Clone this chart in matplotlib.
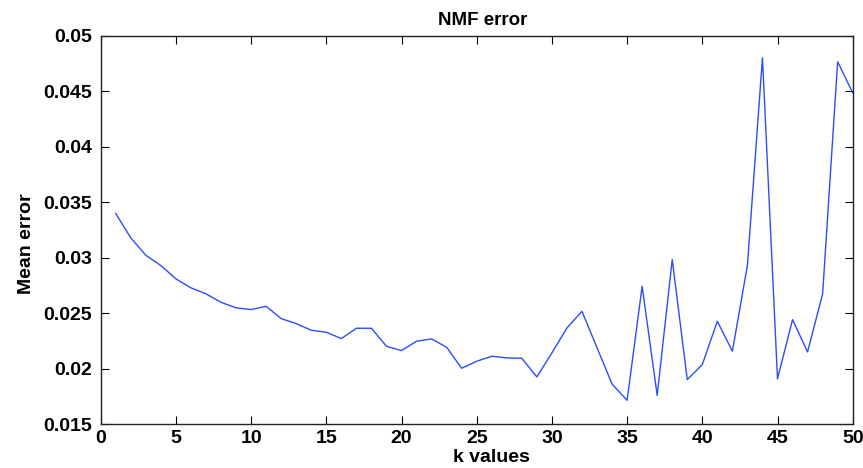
import numpy as np
import matplotlib
matplotlib.use("Agg")
from matplotlib import pyplot as plt

# k values and mean NMF error
k_values = list(range(1, 51))
mean_error = [0.03398, 0.03179, 0.03022, 0.02930, 0.02810, 0.02729, 0.02675, 0.02599, 0.02549, 0.02533,
              0.02563, 0.02452, 0.02407, 0.02347, 0.02329, 0.02272, 0.02365, 0.02365, 0.02203, 0.02164,
              0.02248, 0.02269, 0.02194, 0.02005, 0.02068, 0.02113, 0.02098, 0.02095, 0.01927, 0.02143,
              0.02368, 0.02518, 0.02190, 0.01862, 0.01716, 0.02743, 0.01761, 0.02984, 0.01903, 0.02038,
              0.02428, 0.02158, 0.02932, 0.04801, 0.01909, 0.02443, 0.02152, 0.02675, 0.04765, 0.04486]

x_ticks = [0, 5, 10, 15, 20, 25, 30, 35, 40, 45, 50]
y_ticks = [0.015, 0.02, 0.025, 0.03, 0.035, 0.04, 0.045, 0.05]
y_labels = ['0.015', '0.02', '0.025', '0.03', '0.035', '0.04', '0.045', '0.05']

plt.rcParams['font.family'] = ['Liberation Sans', 'DejaVu Sans']
plt.rcParams['font.size'] = 14
plt.rcParams['font.weight'] = 'bold'

fig = plt.figure(figsize=(8.63, 4.68), dpi=100)
ax = fig.add_axes([100.7 / 863, 1 - 424.3 / 468, 752.0 / 863, 388.6 / 468])

ax.plot(k_values, mean_error, color='#2a4dff', linewidth=1.0)

ax.set_xlim(0, 50)
ax.set_ylim(0.015, 0.05)
ax.set_xticks(x_ticks)
ax.set_yticks(y_ticks)
ax.set_yticklabels(y_labels)
ax.tick_params(direction='in', length=6, width=0.8, top=True, right=True, labelsize=14)
ax.tick_params(axis='x', pad=4.3)
ax.tick_params(axis='y', pad=6)
for s in ax.spines.values():
    s.set_linewidth(1.0)
    s.set_color('#222222')

# matlab-style labels sit a bit off the axes centre
ax.set_title('NMF error', fontsize=13.5, fontweight='bold', pad=8, x=0.508)
ax.set_xlabel('k values', fontsize=14, fontweight='bold', labelpad=0)
ax.xaxis.set_label_coords(0.519, -0.064)
ax.set_ylabel('Mean error', fontsize=14, fontweight='bold', labelpad=6)
ax.yaxis.label.set_y(0.464)

fig.savefig('out.png', dpi=100)
